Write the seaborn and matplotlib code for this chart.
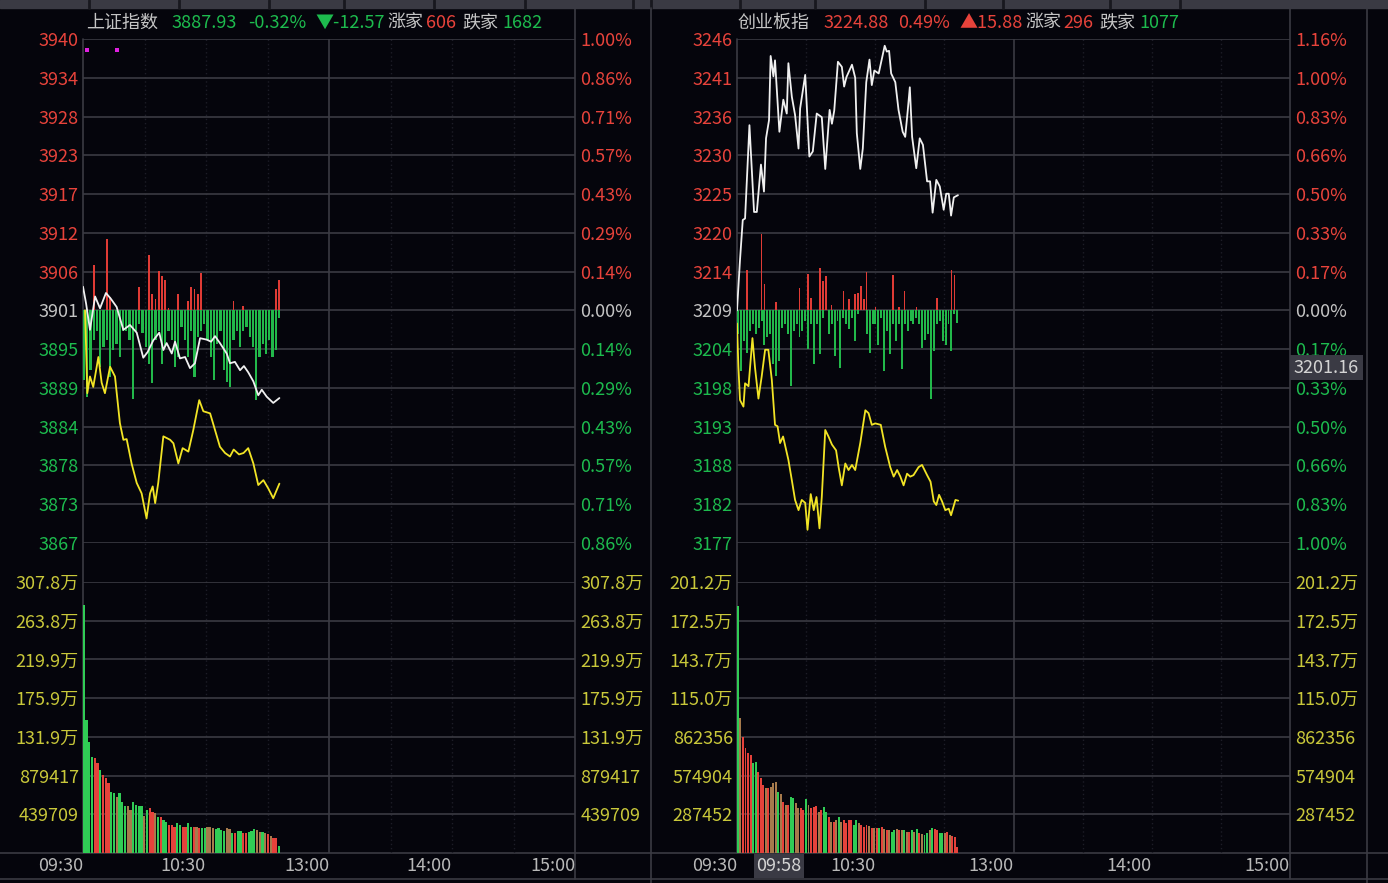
import numpy as np
import matplotlib
matplotlib.use('Agg')
import matplotlib.pyplot as plt
import matplotlib.transforms as mtransforms
from matplotlib.patches import Rectangle
import seaborn as sns

# ---------------- data ----------------
# 上证指数
sh_preclose = 3900.50
sh_top_pct = 1.00
sh_price_labels = ['3940', '3934', '3928', '3923', '3917', '3912', '3906', '3901',
                   '3895', '3889', '3884', '3878', '3873', '3867']
sh_pct_labels = ['1.00%', '0.86%', '0.71%', '0.57%', '0.43%', '0.29%', '0.14%', '0.00%',
                 '0.14%', '0.29%', '0.43%', '0.57%', '0.71%', '0.86%']
sh_white_t = [0, 1.5, 3.4, 5.9, 8.3, 11.2, 13.5, 16.4, 19.7, 22.9,
              26.2, 29.4, 31.5, 34.3, 37.2, 39.2, 40.8, 43.3, 44.9, 47.3,
              49.8, 52.2, 54.6, 57.1, 60.3, 62.5, 64.4, 66.8, 70.1, 71.7,
              74.1, 76.6, 78.5, 80.6, 83.1, 85.5, 87.2, 89.6, 92.8, 95.8]
sh_white_v = [3903.9, 3901.5, 3897.7, 3902.5, 3900.8, 3903.0, 3902.2, 3901.0, 3897.7, 3898.4,
              3897.3, 3893.7, 3894.5, 3896.2, 3897.3, 3894.8, 3895.8, 3894.3, 3896.0, 3893.6,
              3893.8, 3892.2, 3892.9, 3896.5, 3896.3, 3896.0, 3896.8, 3895.8, 3894.3, 3892.9,
              3893.1, 3891.9, 3892.5, 3891.6, 3890.3, 3888.3, 3889.1, 3888.1, 3887.2, 3887.9]
sh_yel_t = [1, 2.1, 3.4, 5.0, 7.5, 9.1, 10.7, 13.2, 15.6, 18.0,
            19.7, 21.3, 23.7, 26.2, 28.6, 31.0, 32.7, 34.0, 35.2, 36.7,
            39.2, 42.5, 44.1, 46.5, 48.6, 51.4, 53.8, 56.7, 58.7, 62.0,
            64.4, 66.8, 69.3, 71.7, 73.5, 76.1, 78.3, 80.6, 83.1, 85.5,
            88.0, 90.4, 92.8, 95.8]
sh_yel_v = [3900.5, 3888.6, 3891.0, 3889.5, 3893.8, 3890.1, 3888.6, 3892.4, 3891.0, 3884.3,
            3881.9, 3882.0, 3878.5, 3875.7, 3874.2, 3870.6, 3874.2, 3875.2, 3872.8, 3875.7,
            3882.4, 3881.9, 3881.4, 3878.5, 3880.7, 3880.2, 3883.3, 3887.6, 3886.0, 3885.7,
            3883.3, 3880.9, 3880.0, 3879.5, 3880.5, 3879.8, 3880.0, 3880.7, 3878.5, 3875.4,
            3876.1, 3874.9, 3873.5, 3875.6]
sh_up = [0, 0, 0, 6.5, 0, 0, 0, 10.3, 1.9, 0,
         0, 0, 0, 0, 0, 0, 0, 3.4, 0, 0,
         7.9, 2.4, 1.7, 5.7, 5.0, 4.3, 0.4, 0, 0, 2.4,
         0, 0, 1.4, 3.4, 3.1, 2.4, 5.4, 0, 0, 0,
         0, 0, 0, 0, 0, 0, 1.3, 0, 0, 0.6,
         0, 0, 0, 0, 0, 0, 0, 0, 0, 3.1,
         4.4]
sh_down = [10.0, 12.4, 8.6, 4.3, 2.9, 8.1, 5.3, 4.3, 9.6, 5.7,
           4.8, 6.7, 2.9, 2.9, 4.3, 12.7, 2.9, 1.9, 3.3, 5.3,
           7.7, 10.5, 4.3, 2.9, 7.7, 5.3, 2.9, 4.3, 8.1, 6.7,
           2.4, 4.3, 6.7, 2.9, 9.6, 3.8, 2.9, 1.9, 4.3, 6.7,
           10.0, 4.8, 2.9, 8.6, 10.3, 11.0, 4.3, 2.9, 5.3, 2.9,
           2.4, 3.8, 5.3, 12.9, 6.7, 4.8, 6.2, 4.3, 6.7, 5.7,
           1.1]
sh_vol_top = 307.8
sh_vol_labels = ['307.8万', '263.8万', '219.9万', '175.9万', '131.9万', '879417', '439709']
sh_vol = [281.8, 151.1, 126.5, 109.4, 108.0, 102.2, 94.3, 88.6, 85.0, 79.5,
          69.7, 68.0, 63.8, 68.0, 58.3, 53.4, 53.4, 48.9, 58.3, 54.5,
          52.9, 52.9, 42.1, 48.9, 51.0, 47.0, 45.1, 41.3, 41.3, 37.5,
          35.6, 31.8, 31.8, 29.9, 33.7, 31.8, 29.9, 29.9, 34.4, 29.5,
          29.5, 29.9, 28.3, 28.3, 28.3, 29.5, 29.5, 28.3, 27.2, 28.3,
          26.1, 25.3, 28.3, 27.2, 23.0, 23.0, 25.3, 25.3, 23.0, 22.2,
          24.2, 25.3, 27.2, 26.1, 24.2, 24.2, 23.0, 21.5, 19.2, 17.6,
          16.5, 8.0]
sh_vol_col = list("ggggrrgrrr" "ggbgggbbgg" "ggbgrrbgrg" "grrrggrrgg"
                  "rbrggbbbgg" "ggbbgrggrr" "gggbbgbrbr" "rg")
sh_events_t = [2.0, 16.6]
sh_header = [('上证指数', 'name'), ('3887.93', 'dn'), ('-0.32%', 'dn'), ('▼-12.57', 'dn'),
             ('涨家', 'name'), ('606', 'up'), ('跌家', 'name'), ('1682', 'dn')]

# 创业板指
cy_preclose = 3209.00
cy_top_pct = 1.16
cy_price_labels = ['3246', '3241', '3236', '3230', '3225', '3220', '3214', '3209',
                   '3204', '3198', '3193', '3188', '3182', '3177']
cy_pct_labels = ['1.16%', '1.00%', '0.83%', '0.66%', '0.50%', '0.33%', '0.17%', '0.00%',
                 '0.17%', '0.33%', '0.50%', '0.66%', '0.83%', '1.00%']
cy_white_t = [0, 1.3, 2.5, 3.5, 5.4, 7.4, 8.6, 10.4, 11.7, 12.6,
              13.9, 14.6, 15.8, 16.5, 18.4, 20.1, 21.6, 22.3, 23.8, 25.2,
              26.7, 27.4, 29.6, 31.4, 32.9, 34.6, 36.8, 38.3, 40.2, 41.2,
              42.2, 43.8, 45.5, 46.5, 47.5, 49.9, 51.3, 52.0, 53.5, 54.6,
              56.1, 57.5, 58.5, 59.6, 61.5, 64.1, 65.0, 66.0, 66.9, 68.7,
              70.1, 71.9, 73.0, 74.1, 75.0, 76.0, 77.8, 79.3, 80.7, 82.5,
              83.8, 84.9, 86.5, 88.0, 89.7, 90.8, 91.9, 92.9, 94.1, 95.9]
cy_white_v = [3209.0, 3215.9, 3221.4, 3221.6, 3234.4, 3222.5, 3222.5, 3229.0, 3225.3, 3232.6,
              3235.1, 3243.9, 3241.1, 3243.3, 3233.5, 3237.9, 3236.0, 3242.9, 3238.3, 3235.8,
              3231.2, 3236.7, 3241.3, 3230.1, 3230.8, 3236.0, 3235.5, 3228.4, 3236.5, 3234.6,
              3236.4, 3243.1, 3242.4, 3239.7, 3241.0, 3242.7, 3240.9, 3233.3, 3228.4, 3231.2,
              3240.3, 3243.4, 3239.9, 3241.9, 3241.5, 3245.3, 3244.5, 3244.6, 3241.5, 3240.3,
              3236.5, 3233.5, 3232.8, 3236.4, 3239.6, 3232.8, 3228.5, 3232.6, 3231.7, 3226.7,
              3226.7, 3222.4, 3226.9, 3226.0, 3222.8, 3225.0, 3225.0, 3222.0, 3224.5, 3224.8]
cy_yel_t = [0, 0.6, 1.3, 2.8, 3.5, 5.0, 6.7, 7.8, 9.3, 10.7,
            12.2, 13.6, 15.1, 16.5, 17.6, 18.7, 20.0, 22.3, 23.8, 25.2,
            26.7, 28.1, 29.6, 30.6, 32.0, 33.3, 34.5, 35.8, 36.8, 38.3,
            39.7, 41.2, 43.0, 44.1, 45.5, 47.0, 48.4, 49.9, 51.3, 53.5,
            55.7, 57.1, 58.5, 60.0, 62.4, 64.3, 66.5, 68.0, 69.5, 70.9,
            72.3, 73.8, 75.2, 76.6, 78.8, 80.3, 82.5, 84.0, 85.4, 86.5,
            87.7, 89.0, 90.4, 91.9, 92.9, 94.8, 96.0]
cy_yel_v = [3207.2, 3201.3, 3196.7, 3195.8, 3199.0, 3198.6, 3205.2, 3201.2, 3196.9, 3199.9,
            3203.6, 3203.6, 3199.5, 3193.3, 3193.1, 3190.8, 3191.7, 3188.5, 3185.7, 3183.0,
            3181.6, 3183.0, 3182.6, 3178.9, 3183.8, 3181.6, 3183.4, 3179.1, 3183.4, 3192.6,
            3191.7, 3190.6, 3189.8, 3187.5, 3185.0, 3188.0, 3187.1, 3187.8, 3187.1, 3190.8,
            3195.3, 3194.9, 3193.3, 3193.5, 3193.3, 3190.3, 3187.5, 3186.2, 3187.1, 3186.2,
            3185.0, 3186.6, 3186.2, 3186.4, 3187.5, 3187.8, 3186.4, 3185.5, 3182.8, 3182.3,
            3183.7, 3182.8, 3181.6, 3181.8, 3180.9, 3183.0, 3182.9]
cy_up = [0, 0, 0, 5.6, 0, 0, 0, 0, 10.5, 3.6,
         0, 0, 0, 1.1, 0, 0, 0, 0, 0, 0,
         0, 3.1, 0, 0, 5.0, 1.7, 0, 0, 5.8, 4.0,
         4.7, 0, 0.7, 0, 0, 0, 2.6, 0, 1.5, 0,
         2.2, 2.4, 3.3, 1.5, 5.2, 0, 0, 0.5, 0, 0,
         0, 0, 0, 4.8, 0, 0.5, 0, 2.7, 0, 0,
         0, 0.5, 0, 0, 0, 0, 0, 0, 1.7, 0,
         0, 0, 0, 5.6, 4.9, 0]
cy_down = [3.3, 8.3, 4.2, 5.8, 2.8, 1.9, 3.3, 2.4, 1.5, 4.7,
           3.7, 3.3, 7.4, 9.0, 6.9, 2.4, 1.9, 3.3, 10.4, 2.8,
           1.9, 3.7, 2.8, 1.5, 5.3, 1.9, 7.4, 1.9, 6.0, 1.0,
           0, 3.3, 1.9, 6.3, 1.5, 7.9, 1.0, 1.9, 2.6, 1.0,
           4.2, 0.5, 0, 0, 3.3, 5.8, 1.9, 1.9, 4.7, 1.0,
           8.3, 2.8, 6.0, 1.9, 4.2, 1.9, 8.1, 1.9, 2.8, 1.5,
           1.9, 1.0, 1.9, 5.1, 4.0, 3.3, 12.2, 5.6, 1.9, 1.5,
           4.2, 4.7, 1.9, 5.6, 0.5, 1.7]
cy_vol_top = 201.2
cy_vol_labels = ['201.2万', '172.5万', '143.7万', '115.0万', '862356', '574904', '287452']
cy_vol = [183.5, 100.0, 86.4, 77.8, 74.5, 72.8, 66.6, 67.8, 60.4, 55.5,
          50.5, 48.1, 48.1, 49.3, 51.8, 53.0, 45.5, 43.8, 38.1, 35.7,
          35.7, 41.8, 40.6, 36.9, 33.2, 33.2, 31.9, 39.9, 35.7, 33.2,
          34.4, 34.9, 30.7, 31.9, 34.4, 30.7, 27.0, 23.3, 23.3, 24.5,
          26.5, 23.3, 24.5, 22.0, 24.5, 24.5, 20.8, 24.5, 22.0, 20.8,
          19.6, 20.8, 20.3, 18.8, 18.3, 18.8, 18.3, 19.6, 17.6, 17.3,
          17.3, 15.8, 17.3, 17.6, 17.3, 16.8, 16.8, 15.8, 15.8, 16.8,
          15.8, 17.6, 15.1, 14.1, 13.4, 15.1, 16.8, 18.3, 17.6, 17.3,
          15.1, 15.1, 14.6, 15.8, 13.4, 12.6, 11.6, 4.2]
cy_vol_col = list("gbrrrrggrr" "rbrbbbgbrb" "rggbbrrgbr" "rrbrggrbrb" "gbrrrrggbr"
                  "rrbrbrgrbr" "bggbrbgbrg" "bgrbggbgrr" "ggbrbrrr")
cy_header = [('创业板指', 'name'), ('3224.88', 'up'), ('0.49%', 'up'), ('▲15.88', 'up'),
             ('涨家', 'name'), ('296', 'up'), ('跌家', 'name'), ('1077', 'dn')]
cy_cross_time = 28            # 09:58
cy_cross_price = 3201.16

time_ticks = [0, 60, 120, 180, 240]
time_labels = ['09:30', '10:30', '13:00', '14:00', '15:00']

# ---------------- style ----------------
W, H = 1388, 883
BG = '#05050c'
GRID = '#3b3b43'
RED = '#e8433b'
GREEN = '#1dbb4e'
GRAY = '#c4c4c4'
YEL = '#c9c83a'
VOLC = {'g': '#30cc55', 'r': '#e5423b', 'b': '#a67a4c'}
TEXTC = {'name': GRAY, 'up': RED, 'dn': GREEN}
FS = 13

sns.set_theme(style='dark', rc={'axes.facecolor': BG, 'figure.facecolor': BG,
                                'savefig.facecolor': BG})
plt.rcParams['font.family'] = ['Noto Sans CJK SC', 'DejaVu Sans']
plt.rcParams['axes.unicode_minus'] = False

fig = plt.figure(figsize=(W / 100, H / 100), dpi=100)


def box(x0, y0, x1, y1):
    return [x0 / W, 1 - y1 / H, (x1 - x0) / W, (y1 - y0) / H]


# background frame (pixel coords)
bg = fig.add_axes([0, 0, 1, 1])
bg.set_xlim(0, W)
bg.set_ylim(H, 0)
bg.axis('off')
bg.add_patch(Rectangle((0, 0), W, 8, color='#3a3a43', zorder=1))
for sx in [89, 179, 269, 344, 434, 525, 633, 651, 740, 815, 925, 1003, 1110, 1180]:
    bg.plot([sx, sx], [0, 8], color='#18181e', lw=2, zorder=2)
for yy in [853, 879]:
    bg.plot([0, W], [yy, yy], color=GRID, lw=1.2)
for xx, y0, y1 in [(83, 39, 853), (575, 8, 879), (651, 8, 883),
                   (737, 39, 853), (1290, 8, 879), (1367, 8, 883)]:
    bg.plot([xx, xx], [y0, y1], color=GRID, lw=1.2)


def header(items, xs):
    for (s, kind), x in zip(items, xs):
        bg.text(x, 23, s, color=TEXTC[kind], fontsize=FS, ha='left', va='center')


def color_by_side(labels, ticks, preclose):
    for lab, tk in zip(labels, ticks):
        if abs(tk - preclose) < 1e-6:
            lab.set_color(GRAY)
        elif tk > preclose:
            lab.set_color(RED)
        else:
            lab.set_color(GREEN)


def panel(x0, x1, preclose, top_pct, price_labels, pct_labels,
          wt, wv, yt, yv, up, down, vol_top, vol_labels, vol, vol_col, bar_w):
    # vertical time grid
    fr = fig.add_axes(box(x0, 39, x1, 853))
    fr.set_xlim(0, 240)
    fr.axis('off')
    for t in [30, 60, 90, 150, 180, 210]:
        fr.axvline(t, color='#1d1d27', lw=1, ls=(0, (1, 2)))
    fr.axvline(120, color=GRID, lw=1.2)

    # price pane
    ax = fig.add_axes(box(x0, 39, x1, 543))
    ax.set_facecolor('none')
    lo = preclose * (1 - top_pct * 6 / 7 / 100)
    hi = preclose * (1 + top_pct / 100)
    ticks = np.linspace(lo, hi, 14)
    ax.set_xlim(0, 240)
    ax.set_ylim(lo, hi)
    for tk in ticks:
        ax.axhline(tk, color=GRID, lw=1.2, zorder=0)
    bt = np.linspace(0.5, 95.6, len(up))
    ax.bar(bt, up, bottom=preclose, width=bar_w * 0.8, color='#e03b35', linewidth=0, zorder=2)
    ax.bar(bt, [-d for d in down], bottom=preclose, width=bar_w, color='#22b84a',
           linewidth=0, zorder=2)
    sns.lineplot(x=yt, y=yv, ax=ax, color='#f2e425', lw=1.3, estimator=None, sort=False, zorder=3)
    sns.lineplot(x=wt, y=wv, ax=ax, color='#f0f0f0', lw=1.3, estimator=None, sort=False, zorder=4)
    ax.set_xlabel('')
    ax.set_ylabel('')
    ax.set_xticks([])
    ax.set_yticks(ticks)
    ax.set_yticklabels(price_labels[::-1])
    ax.tick_params(axis='y', length=0, pad=3, labelsize=FS)
    color_by_side(ax.get_yticklabels(), ticks, preclose)
    ax.grid(False)
    for sp in ax.spines.values():
        sp.set_visible(False)
    ax2 = ax.twinx()
    ax2.set_ylim(lo, hi)
    ax2.set_yticks(ticks)
    ax2.set_yticklabels(pct_labels[::-1])
    ax2.tick_params(axis='y', length=0, pad=4, labelsize=FS)
    color_by_side(ax2.get_yticklabels(), ticks, preclose)
    ax2.grid(False)
    for sp in ax2.spines.values():
        sp.set_visible(False)

    # volume pane
    av = fig.add_axes(box(x0, 582, x1, 853))
    av.set_facecolor('none')
    av.set_xlim(0, 240)
    av.set_ylim(0, vol_top)
    vt = np.linspace(0, vol_top, 8)
    for tk in vt[1:]:
        av.axhline(tk, color=GRID, lw=1.2, zorder=0)
    av.bar(np.linspace(0.4, 95.6, len(vol)), vol, width=bar_w,
           color=[VOLC[c] for c in vol_col], linewidth=0, zorder=2)
    av.set_yticks(vt[1:])
    av.set_yticklabels(vol_labels[::-1])
    av.tick_params(axis='y', length=0, pad=3, labelsize=FS, labelcolor=YEL)
    av.set_xticks(time_ticks)
    av.set_xticklabels(time_labels)
    av.tick_params(axis='x', length=0, pad=3, labelsize=FS, labelcolor='#b8b8b8')
    for lab in av.get_xticklabels():
        lab.set_ha('right')
    av.grid(False)
    for sp in av.spines.values():
        sp.set_visible(False)
    av2 = av.twinx()
    av2.set_ylim(0, vol_top)
    av2.set_yticks(vt[1:])
    av2.set_yticklabels(vol_labels[::-1])
    av2.tick_params(axis='y', length=0, pad=4, labelsize=FS, labelcolor=YEL)
    av2.grid(False)
    for sp in av2.spines.values():
        sp.set_visible(False)
    return ax, ax2, av


sh_ax, sh_ax2, sh_av = panel(83, 575, sh_preclose, sh_top_pct, sh_price_labels, sh_pct_labels,
                             sh_white_t, sh_white_v, sh_yel_t, sh_yel_v, sh_up, sh_down,
                             sh_vol_top, sh_vol_labels, sh_vol, sh_vol_col, 1.05)
cy_ax, cy_ax2, cy_av = panel(737, 1290, cy_preclose, cy_top_pct, cy_price_labels, cy_pct_labels,
                             cy_white_t, cy_white_v, cy_yel_t, cy_yel_v, cy_up, cy_down,
                             cy_vol_top, cy_vol_labels, cy_vol, cy_vol_col, 0.85)

# magenta event markers
sh_ax.scatter(sh_events_t, [0.978] * len(sh_events_t), marker='s', s=9, color='#e020e0',
              linewidths=0,
              transform=mtransforms.blended_transform_factory(sh_ax.transData, sh_ax.transAxes),
              zorder=5, clip_on=False)

# crosshair labels
cy_ax2.text(1 + 4 / 553, cy_cross_price, '3201.16', fontsize=FS, color='#d4d4d4', ha='left',
            va='center', zorder=6, clip_on=False,
            transform=mtransforms.blended_transform_factory(cy_ax2.transAxes, cy_ax2.transData),
            bbox=dict(boxstyle='square,pad=0.2', fc='#3a3a44', ec='none'))
cy_av.text(cy_cross_time, -4 / 271, '09:58', fontsize=FS, color='#d4d4d4', ha='right', va='top',
           zorder=6, clip_on=False,
           transform=mtransforms.blended_transform_factory(cy_av.transData, cy_av.transAxes),
           bbox=dict(boxstyle='square,pad=0.15', fc='#3a3a44', ec='none'))

header(sh_header, [86, 172, 248, 315, 387, 426, 462, 502])
header(cy_header, [738, 824, 898, 959, 1025, 1063, 1099, 1139])

fig.savefig('out.png', dpi=100, facecolor=BG)
